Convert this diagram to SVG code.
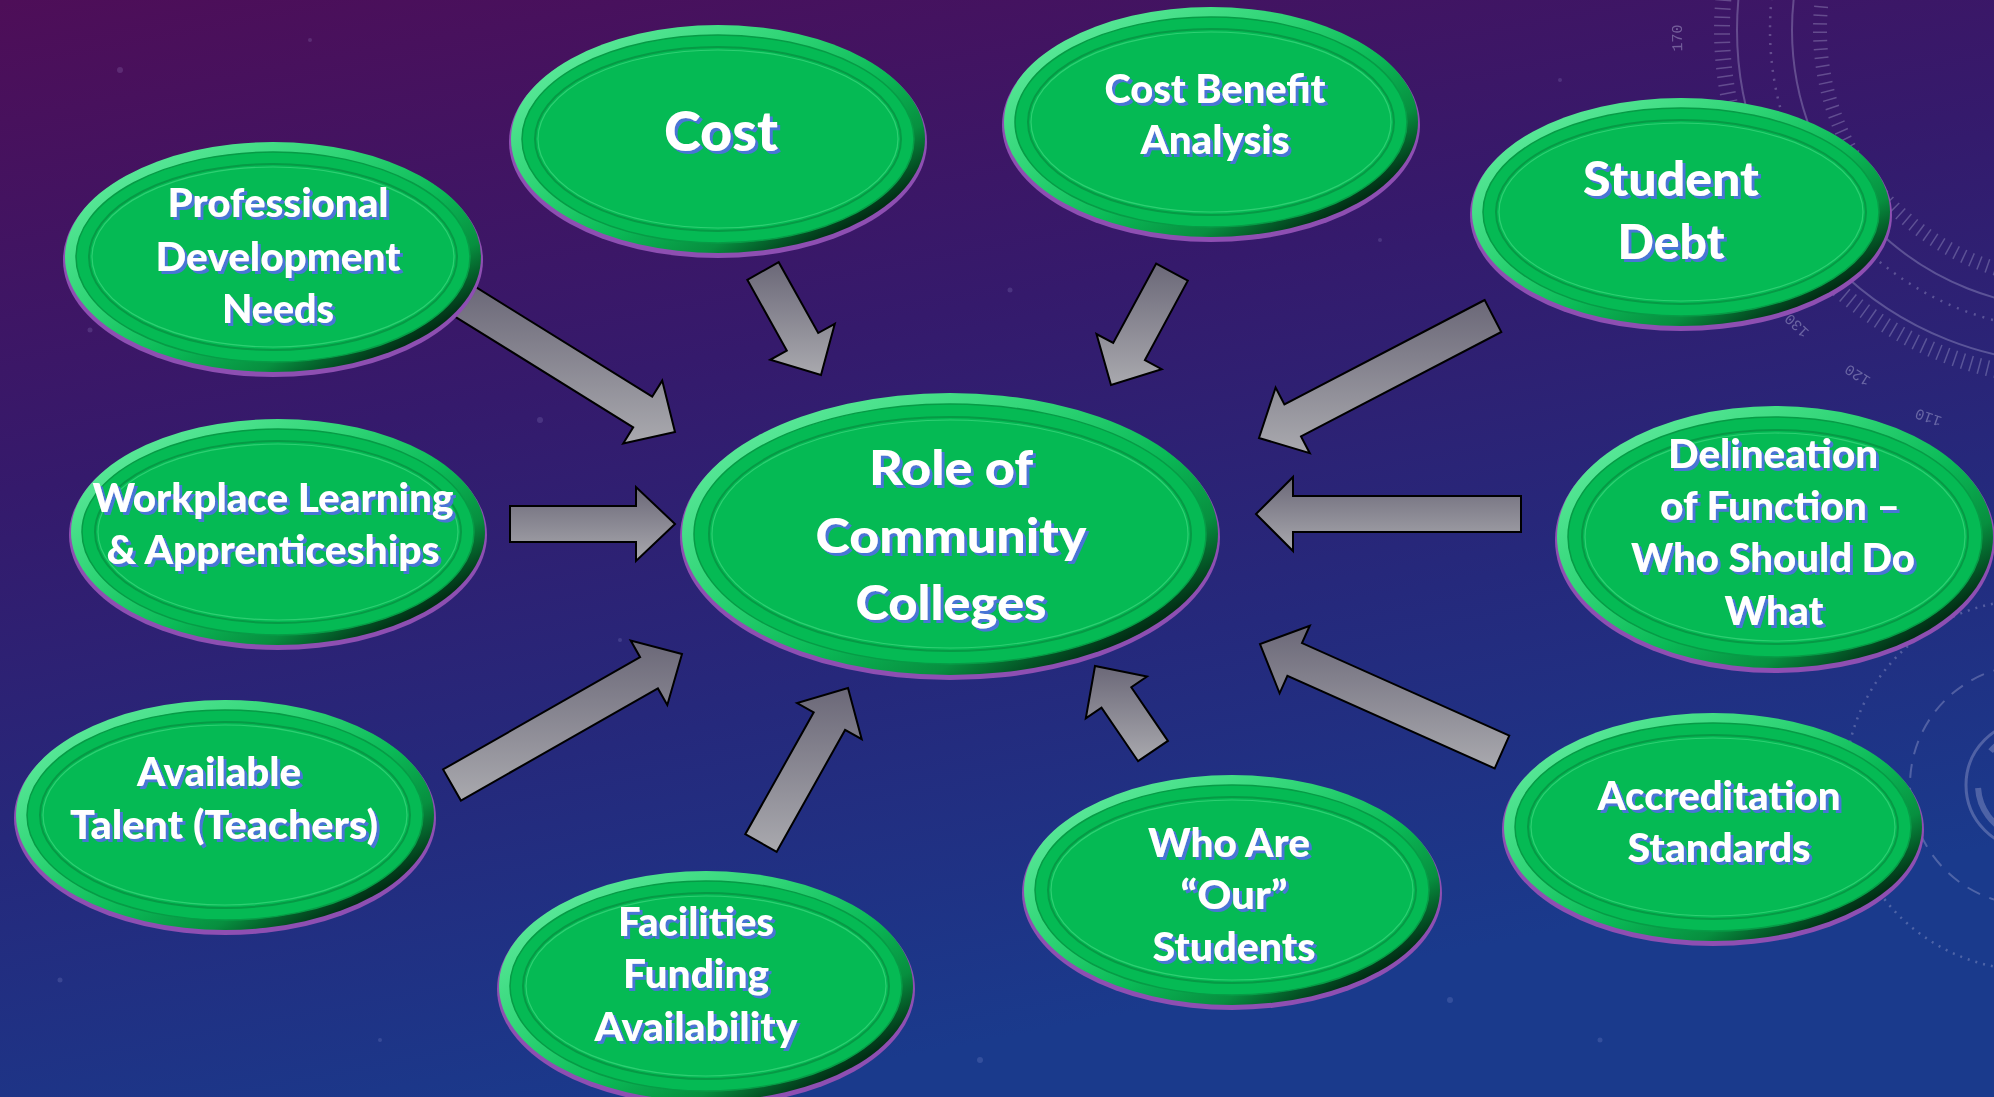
<svg xmlns="http://www.w3.org/2000/svg" width="1994" height="1097" viewBox="0 0 1994 1097">
<defs>
<linearGradient id="bg" x1="0" y1="0" x2="0.35" y2="1">
<stop offset="0" stop-color="#4e0e58"/>
<stop offset="0.4" stop-color="#351a6c"/>
<stop offset="0.7" stop-color="#25297c"/>
<stop offset="1" stop-color="#1a3a8c"/>
</linearGradient>
<linearGradient id="rimG" x1="0.2" y1="0" x2="1" y2="0.75">
<stop offset="0" stop-color="#5eea9c"/>
<stop offset="0.35" stop-color="#2ed475"/>
<stop offset="0.6" stop-color="#0bba57"/>
<stop offset="0.8" stop-color="#078f3f"/>
<stop offset="0.96" stop-color="#022e15"/>
</linearGradient>
<linearGradient id="arrG" x1="0" y1="0" x2="0" y2="1">
<stop offset="0" stop-color="#6b6878"/>
<stop offset="1" stop-color="#a9a9ae"/>
</linearGradient>
<filter id="ts" x="-10%" y="-30%" width="120%" height="160%">
<feFlood flood-color="#4a74d6"/>
<feComposite in2="SourceAlpha" operator="in"/>
<feOffset dx="2.5" dy="2.5" result="sh"/>
<feMerge><feMergeNode in="sh"/><feMergeNode in="SourceGraphic"/></feMerge>
</filter>
<style>
.glow{fill:#8e4fb2}
.rim{fill:url(#rimG)}
.face{fill:#05ba54;stroke:#079b46;stroke-width:1.5}
.ring{fill:none;stroke:#069a45;stroke-width:2}
.ring2{fill:none;stroke:#3fd97f;stroke-width:1.2;opacity:0.7}
.arr{fill:url(#arrG);stroke:#000;stroke-width:2;stroke-linejoin:miter}
.t{font-family:Lato,"Liberation Sans",sans-serif;font-weight:900;font-size:39px;fill:#fff;text-anchor:middle;filter:url(#ts)}
.tb{font-size:47px}
.tc{font-size:56px}
.deco{fill:none;stroke:#c8c8e8;opacity:0.3}
.num{font-family:"Liberation Mono",monospace;font-size:15px;fill:#c8c8e8;opacity:0.4;text-anchor:middle}
.star{fill:#c8c8ff;opacity:0.15}
</style>
</defs>

<rect width="1994" height="1097" fill="url(#bg)"/>

<g id="background-decor">
<circle class="star" cx="120" cy="70" r="3"/>
<circle class="star" cx="310" cy="40" r="2"/>
<circle class="star" cx="90" cy="330" r="2.5"/>
<circle class="star" cx="540" cy="420" r="3"/>
<circle class="star" cx="470" cy="300" r="2"/>
<circle class="star" cx="1010" cy="290" r="2.5"/>
<circle class="star" cx="1380" cy="240" r="2"/>
<circle class="star" cx="1100" cy="560" r="3"/>
<circle class="star" cx="60" cy="980" r="2.5"/>
<circle class="star" cx="380" cy="1040" r="2"/>
<circle class="star" cx="980" cy="1060" r="3"/>
<circle class="star" cx="1450" cy="1000" r="3"/>
<circle class="star" cx="1600" cy="1040" r="2.5"/>
<circle class="star" cx="1560" cy="80" r="2"/>
<circle class="star" cx="620" cy="640" r="2"/>
<circle class="deco" cx="2070" cy="30" r="278" stroke-width="2"/>
<circle class="deco" cx="2070" cy="30" r="333" stroke-width="2"/>
<circle class="deco" cx="2070" cy="30" r="300" stroke-width="2.5" stroke-dasharray="2 7"/>
<circle class="deco" cx="2070" cy="30" r="348" stroke-width="16" stroke-dasharray="1.5 7"/>
<circle class="deco" cx="2070" cy="30" r="250" stroke-width="14" stroke-dasharray="1.5 7"/>
<text class="num" transform="translate(1682,38) rotate(-91)">170</text>
<text class="num" transform="translate(1800,322) rotate(-137)">130</text>
<text class="num" transform="translate(1860,371) rotate(-148)">120</text>
<text class="num" transform="translate(1930,413) rotate(-160)">110</text>
<circle class="deco" cx="2030" cy="785" r="120" stroke-width="2" stroke-dasharray="14 10"/>
<circle class="deco" cx="2030" cy="785" r="185" stroke-width="2.5" stroke-dasharray="2 6"/>
<circle class="deco" cx="2030" cy="785" r="64" stroke-width="3"/>
<circle class="deco" cx="2030" cy="785" r="52" stroke-width="6" stroke-dasharray="60 40"/>
</g>

<g id="connectors">
<polygon class="arr" points="454.5,316.3 633.2,427.3 623.2,443.4 675,432 662.2,380.6 652.2,396.7 473.5,285.7"/>
<polygon class="arr" points="747.3,279.8 786.8,350.6 770.2,359.8 821,375 834.8,323.8 818.2,333.0 778.7,262.2"/>
<polygon class="arr" points="1156.2,263.5 1113.2,343.0 1096.5,334.0 1111,385 1161.7,369.2 1144.9,360.1 1187.8,280.6"/>
<polygon class="arr" points="1484.7,300.0 1284.4,404.4 1275.6,387.6 1259,438 1309.8,453.2 1301.0,436.4 1501.3,332.0"/>
<polygon class="arr" points="1521,496 1293,496 1293,477 1256,514 1293,551 1293,532 1521,532"/>
<polygon class="arr" points="510,506 636,506 636,487 675,524 636,561 636,542 510,542"/>
<polygon class="arr" points="460.9,800.6 657.9,688.4 667.3,705.0 682,654 630.7,640.6 640.1,657.2 443.1,769.4"/>
<polygon class="arr" points="776.7,851.8 845.1,729.9 861.7,739.2 848,688 797.1,703.0 813.7,712.3 745.3,834.2"/>
<polygon class="arr" points="1167.9,740.9 1131.3,687.3 1147.0,676.5 1095,666 1085.8,718.3 1101.5,707.6 1138.1,761.2"/>
<polygon class="arr" points="1509.3,735.6 1302.0,643.1 1309.8,625.7 1260,644 1279.6,693.3 1287.4,675.9 1494.7,768.4"/>
</g>

<g id="node-professional-development" transform="translate(273,257)">
<ellipse class="glow" cy="3" rx="210" ry="117"/>
<ellipse class="rim" rx="208" ry="115"/>
<ellipse class="face" rx="197" ry="105"/>
<ellipse class="ring" rx="184" ry="93"/>
<ellipse class="ring2" rx="181" ry="90"/>
<text class="t" x="5" y="-40" textLength="221" lengthAdjust="spacingAndGlyphs">Professional</text>
<text class="t" x="5" y="14" textLength="245" lengthAdjust="spacingAndGlyphs">Development</text>
<text class="t" x="5" y="66" textLength="112" lengthAdjust="spacingAndGlyphs">Needs</text>
</g>

<g id="node-cost" transform="translate(718,139)">
<ellipse class="glow" cy="3" rx="209" ry="116"/>
<ellipse class="rim" rx="207" ry="114"/>
<ellipse class="face" rx="196" ry="104"/>
<ellipse class="ring" rx="183" ry="92"/>
<ellipse class="ring2" rx="180" ry="89"/>
<text class="t tc" x="3" y="12" textLength="114" lengthAdjust="spacingAndGlyphs">Cost</text>
</g>

<g id="node-cost-benefit" transform="translate(1211,122)">
<ellipse class="glow" cy="3" rx="209" ry="117"/>
<ellipse class="rim" rx="207" ry="115"/>
<ellipse class="face" rx="196" ry="105"/>
<ellipse class="ring" rx="183" ry="93"/>
<ellipse class="ring2" rx="180" ry="90"/>
<text class="t" x="4" y="-19" textLength="221" lengthAdjust="spacingAndGlyphs">Cost Benefit</text>
<text class="t" x="4" y="32" textLength="149" lengthAdjust="spacingAndGlyphs">Analysis</text>
</g>

<g id="node-student-debt" transform="translate(1681,212)">
<ellipse class="glow" cy="3" rx="211" ry="116"/>
<ellipse class="rim" rx="209" ry="114"/>
<ellipse class="face" rx="198" ry="104"/>
<ellipse class="ring" rx="185" ry="92"/>
<ellipse class="ring2" rx="182" ry="89"/>
<text class="t tb" x="-10" y="-16" textLength="176" lengthAdjust="spacingAndGlyphs">Student</text>
<text class="t tb" x="-10" y="47" textLength="107" lengthAdjust="spacingAndGlyphs">Debt</text>
</g>

<g id="node-workplace-learning" transform="translate(278,532)">
<ellipse class="glow" cy="3" rx="209" ry="115"/>
<ellipse class="rim" rx="207" ry="113"/>
<ellipse class="face" rx="196" ry="103"/>
<ellipse class="ring" rx="183" ry="91"/>
<ellipse class="ring2" rx="180" ry="88"/>
<text class="t" x="-5" y="-20" textLength="361" lengthAdjust="spacingAndGlyphs">Workplace Learning</text>
<text class="t" x="-5" y="32" textLength="333" lengthAdjust="spacingAndGlyphs">&amp; Apprenticeships</text>
</g>

<g id="node-role-of-community-colleges" transform="translate(950,534)">
<ellipse class="glow" cy="3" rx="270" ry="143"/>
<ellipse class="rim" rx="268" ry="141"/>
<ellipse class="face" rx="256" ry="130"/>
<ellipse class="ring" rx="241" ry="117"/>
<ellipse class="ring2" rx="238" ry="114"/>
<text class="t tb" x="1" y="-49" textLength="164" lengthAdjust="spacingAndGlyphs">Role of</text>
<text class="t tb" x="1" y="19" textLength="271" lengthAdjust="spacingAndGlyphs">Community</text>
<text class="t tb" x="1" y="86" textLength="191" lengthAdjust="spacingAndGlyphs">Colleges</text>
</g>

<g id="node-delineation-of-function" transform="translate(1775,537)">
<ellipse class="glow" cy="3" rx="220" ry="133"/>
<ellipse class="rim" rx="218" ry="131"/>
<ellipse class="face" rx="207" ry="120"/>
<ellipse class="ring" rx="193" ry="107"/>
<ellipse class="ring2" rx="190" ry="104"/>
<text class="t" x="-2" y="-69" textLength="210" lengthAdjust="spacingAndGlyphs">Delineation</text>
<text class="t" x="5" y="-17" textLength="240" lengthAdjust="spacingAndGlyphs">of Function –</text>
<text class="t" x="-2" y="35" textLength="284" lengthAdjust="spacingAndGlyphs">Who Should Do</text>
<text class="t" x="-1" y="88" textLength="99" lengthAdjust="spacingAndGlyphs">What</text>
</g>

<g id="node-available-talent" transform="translate(225,815)">
<ellipse class="glow" cy="3" rx="211" ry="117"/>
<ellipse class="rim" rx="209" ry="115"/>
<ellipse class="face" rx="198" ry="105"/>
<ellipse class="ring" rx="185" ry="93"/>
<ellipse class="ring2" rx="182" ry="90"/>
<text class="t" x="-6" y="-29" textLength="164" lengthAdjust="spacingAndGlyphs">Available</text>
<text class="t" x="-1" y="24" textLength="308" lengthAdjust="spacingAndGlyphs">Talent (Teachers)</text>
</g>

<g id="node-facilities-funding" transform="translate(706,986)">
<ellipse class="glow" cy="3" rx="209" ry="117"/>
<ellipse class="rim" rx="207" ry="115"/>
<ellipse class="face" rx="196" ry="105"/>
<ellipse class="ring" rx="183" ry="93"/>
<ellipse class="ring2" rx="180" ry="90"/>
<text class="t" x="-10" y="-50" textLength="156" lengthAdjust="spacingAndGlyphs">Facilities</text>
<text class="t" x="-10" y="2" textLength="146" lengthAdjust="spacingAndGlyphs">Funding</text>
<text class="t" x="-10" y="55" textLength="203" lengthAdjust="spacingAndGlyphs">Availability</text>
</g>

<g id="node-who-are-our-students" transform="translate(1232,890)">
<ellipse class="glow" cy="3" rx="210" ry="117"/>
<ellipse class="rim" rx="208" ry="115"/>
<ellipse class="face" rx="197" ry="105"/>
<ellipse class="ring" rx="184" ry="93"/>
<ellipse class="ring2" rx="181" ry="90"/>
<text class="t" x="-3" y="-33" textLength="162" lengthAdjust="spacingAndGlyphs">Who Are</text>
<text class="t" x="2" y="19" textLength="107" lengthAdjust="spacingAndGlyphs">“Our”</text>
<text class="t" x="2" y="71" textLength="163" lengthAdjust="spacingAndGlyphs">Students</text>
</g>

<g id="node-accreditation-standards" transform="translate(1713,827)">
<ellipse class="glow" cy="3" rx="211" ry="116"/>
<ellipse class="rim" rx="209" ry="114"/>
<ellipse class="face" rx="198" ry="104"/>
<ellipse class="ring" rx="185" ry="92"/>
<ellipse class="ring2" rx="182" ry="89"/>
<text class="t" x="6" y="-17" textLength="243" lengthAdjust="spacingAndGlyphs">Accreditation</text>
<text class="t" x="6" y="35" textLength="183" lengthAdjust="spacingAndGlyphs">Standards</text>
</g>
</svg>
